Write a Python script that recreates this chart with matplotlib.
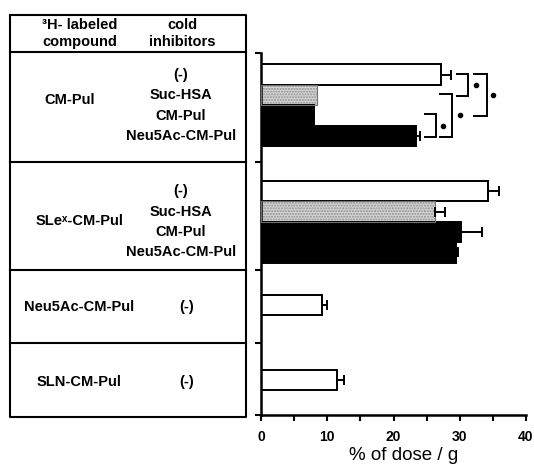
import matplotlib
matplotlib.use("Agg")
import matplotlib.pyplot as plt
import numpy as np

plt.rcParams['font.family'] = ['Liberation Sans', 'DejaVu Sans']

# ---- data ----
compounds = ["CM-Pul", "SLeˣ-CM-Pul", "Neu5Ac-CM-Pul", "SLN-CM-Pul"]
inhibitors = [["(-)", "Suc-HSA", "CM-Pul", "Neu5Ac-CM-Pul"],
              ["(-)", "Suc-HSA", "CM-Pul", "Neu5Ac-CM-Pul"],
              ["(-)"],
              ["(-)"]]
values = [[27.2, 8.4, 8.0, 23.4],
          [34.3, 26.3, 30.2, 29.4],
          [9.2],
          [11.4]]
errors = [[1.5, 0.0, 0.0, 0.6],
          [1.6, 1.5, 3.2, 0.3],
          [0.7],
          [1.1]]
xticks_major = [0, 10, 20, 30, 40]
xlabel = "% of dose / g"
# significance pairs within the CM-Pul group (bar indices), drawn with '*'
sig_pairs = [(0, 1), (0, 2), (1, 3), (2, 3)]

# ---- layout (pixels) ----
W, H = 534, 468
fig = plt.figure(figsize=(W / 100, H / 100), dpi=100)
ax_left, ax_right, ax_top, ax_bot = 261, 526, 53, 415
ax = fig.add_axes([ax_left / W, 1 - ax_bot / H, (ax_right - ax_left) / W, (ax_bot - ax_top) / H])

group_h = [109, 108, 73, 72]
first_off = [11.5, 19, 25, 27]
bh = 20.4
bounds = np.concatenate([[0], np.cumsum(group_h)])

styles = [dict(facecolor="white", edgecolor="black"),
          dict(facecolor="#d4d4d4", edgecolor="#909090", hatch="......"),
          dict(facecolor="black", edgecolor="black"),
          dict(facecolor="black", edgecolor="black")]

centers = []
for g, vals in enumerate(values):
    cs = [bounds[g] + first_off[g] + (i + 0.5) * bh for i in range(len(vals))]
    centers.append(cs)
    for i, v in enumerate(vals):
        st = styles[i]
        if i == 1:
            ax.barh(cs[i], v, height=bh, color=st["facecolor"], edgecolor=st["edgecolor"],
                    hatch=st["hatch"], linewidth=0, zorder=2)
            ax.barh(cs[i], v, height=bh, fill=False, edgecolor="#707070", linewidth=0.8, zorder=3)
        else:
            ax.barh(cs[i], v, height=bh, color=st["facecolor"], edgecolor=st["edgecolor"],
                    linewidth=1.4, zorder=2)
        if errors[g][i] > 0:
            ax.errorbar(v, cs[i], xerr=[[0], [errors[g][i]]], fmt="none", ecolor="black",
                        elinewidth=1.4, capsize=3.5, capthick=1.4, zorder=4)

# significance brackets (CM-Pul group)
br_x = [(29.6, 31.2, 32.5), (32.2, 34.1, 35.0), (27.0, 28.8, 30.0), (24.8, 26.4, 27.5)]
c0 = centers[0]
for (a, b), (xl, xr, xs) in zip(sig_pairs, br_x):
    ya, yb = c0[a] - 1, c0[b] + 1
    ax.plot([xl, xr, xr, xl], [ya, ya, yb, yb], color="black", lw=1.4, zorder=5,
            solid_joinstyle="miter", clip_on=False)
    ax.plot([xs], [(ya + yb) / 2], marker="o", ms=3.0, color="black", zorder=5, clip_on=False)

ax.set_xlim(0, 40)
ax.set_ylim(bounds[-1], 0)
ax.set_xticks(xticks_major)
ax.set_xticklabels([str(t) for t in xticks_major], fontsize=10, fontweight="bold")
ax.set_xticks([5, 15, 25, 35], minor=True)
ax.set_yticks(bounds)
ax.set_yticklabels([])
for s in ["top", "right"]:
    ax.spines[s].set_visible(False)
for s in ["left", "bottom"]:
    ax.spines[s].set_linewidth(1.8)
ax.tick_params(axis="x", which="both", direction="out", length=4, width=1.5, pad=7)
ax.tick_params(axis="y", direction="out", length=4, width=1.5)
ax.set_xlabel(xlabel, fontsize=13.5)
ax.xaxis.set_label_coords(0.54, -0.113)
ax.xaxis.label.set_verticalalignment("center")

# ---- table on the left (overlay in pixel coords) ----
ov = fig.add_axes([0, 0, 1, 1], facecolor="none")
ov.set_xlim(0, W)
ov.set_ylim(H, 0)
ov.axis("off")
tl, tr, tt, tb = 10, 246, 15, 417
lw = 1.5
ov.plot([tl, tr, tr, tl, tl], [tt, tt, tb, tb, tt], color="black", lw=lw)
ov.plot([tl, tr], [52, 52], color="black", lw=lw)
for bnd in bounds[1:-1]:
    y = ax_top + bnd
    ov.plot([tl, tr], [y, y], color="black", lw=lw)

fs = 10.5
ov.text(80, 25, "³H- labeled", ha="center", va="center", fontsize=fs, fontweight="bold")
ov.text(80, 42, "compound", ha="center", va="center", fontsize=fs, fontweight="bold")
ov.text(182, 25, "cold", ha="center", va="center", fontsize=fs, fontweight="bold")
ov.text(182, 42, "inhibitors", ha="center", va="center", fontsize=fs, fontweight="bold")

comp_y = [100, 221, None, None]
for g, name in enumerate(compounds):
    cs = centers[g]
    if len(inhibitors[g]) > 1:
        ov.text(70 if g == 0 else 80, comp_y[g], name, ha="center", va="center",
                fontsize=fs, fontweight="bold")
        for i, lab in enumerate(inhibitors[g]):
            ov.text(181, ax_top + cs[i], lab, ha="center", va="center", fontsize=fs,
                    fontweight="bold")
    else:
        yc = ax_top + cs[0] + 2
        ov.text(79, yc, name, ha="center", va="center", fontsize=fs, fontweight="bold")
        ov.text(187, yc, inhibitors[g][0], ha="center", va="center", fontsize=fs,
                fontweight="bold")

fig.savefig("out.png", dpi=100)
